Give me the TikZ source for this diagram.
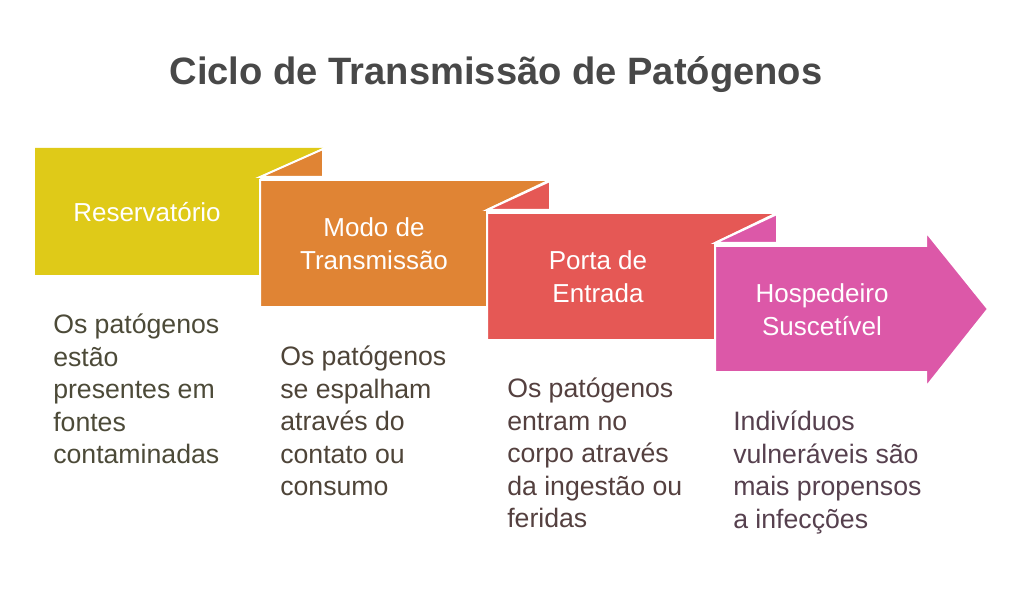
\documentclass[tikz,border=0pt]{standalone}
\usepackage{fontspec}
\setmainfont{Liberation Sans}
\definecolor{cyel}{HTML}{DFCA18}
\definecolor{cora}{HTML}{E08434}
\definecolor{ccor}{HTML}{E55855}
\definecolor{cpnk}{HTML}{DC58A8}
\definecolor{ttl}{HTML}{484848}
\definecolor{d1}{HTML}{4C4A38}
\definecolor{d2}{HTML}{4E4438}
\definecolor{d3}{HTML}{54403F}
\definecolor{d4}{HTML}{56404E}
\tikzset{
  shp/.style={draw=white, line width=1.5pt, line join=miter},
  lbl/.style={text=white, align=center, font=\fontsize{19.5}{24.8}\selectfont, inner sep=0pt},
  dsc/.style={align=left, anchor=north west, font=\fontsize{20}{24.3}\selectfont, inner sep=0pt},
}
\begin{document}
\begin{tikzpicture}[x=0.75pt,y=-0.75pt]
\useasboundingbox (0,0) rectangle (1024,602);
% shapes
\fill[cyel] (35,148) -- (323,148) -- (260,178) -- (260,275) -- (35,275) -- cycle;
\filldraw[cora, shp] (260,177) -- (323,149) -- (323,177) -- cycle;
\filldraw[cora, shp] (260,180) -- (550,180) -- (487,210) -- (487,307) -- (260,307) -- cycle;
\filldraw[ccor, shp] (487,210) -- (550,181) -- (550,210) -- cycle;
\filldraw[ccor, shp] (487,213) -- (777,213) -- (715,243) -- (715,340) -- (487,340) -- cycle;
\filldraw[cpnk, shp] (715,243) -- (777,214) -- (777,243) -- cycle;
\filldraw[cpnk, shp] (715,246) -- (926,246) -- (926,232) -- (988,309) -- (926,387) -- (926,372) -- (715,372) -- cycle;
% title
\node[text=ttl, font=\fontsize{28.6}{32}\selectfont\bfseries] (title) at (496,75) {Ciclo de Transmissão de Patógenos};
% labels
\node[lbl] (l1) at (147,212) {Reservatório};
\node[lbl] (l2) at (374,244) {Modo de\\Transmissão};
\node[lbl] (l3) at (598,277) {Porta de\\Entrada};
\node[lbl] (l4) at (822,310) {Hospedeiro\\Suscetível};
% descriptions
\node[dsc, text=d1] (t1) at (53,314) {Os patógenos\\estão\\presentes em\\fontes\\contaminadas};
\node[dsc, text=d2] (t2) at (280,346) {Os patógenos\\se espalham\\através do\\contato ou\\consumo};
\node[dsc, text=d3] (t3) at (507,378) {Os patógenos\\entram no\\corpo através\\da ingestão ou\\feridas};
\node[dsc, text=d4] (t4) at (733,411) {Indivíduos\\vulneráveis são\\mais propensos\\a infecções};
\end{tikzpicture}
\end{document}
